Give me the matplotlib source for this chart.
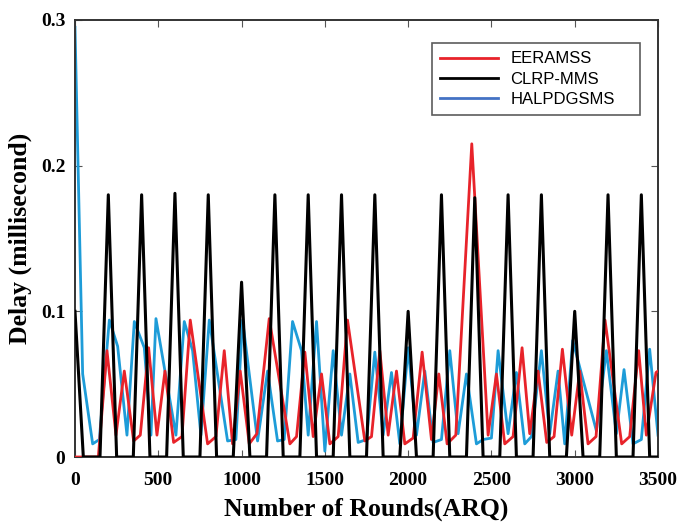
import numpy as np
import matplotlib.pyplot as plt
from matplotlib.lines import Line2D

# EERAMSS (red)
red_x = [0, 140, 192, 246, 296, 352, 392, 442, 492, 540, 592, 642, 692, 796, 846,
         896, 946, 992, 1046, 1092, 1166, 1290, 1330, 1380, 1430, 1480, 1530, 1580,
         1636, 1740, 1780, 1830, 1880, 1930, 1980, 2030, 2084, 2140, 2184, 2234, 2286,
         2382, 2480, 2530, 2580, 2630, 2684, 2730, 2780, 2832, 2876, 2926, 2982, 3030,
         3080, 3128, 3182, 3282, 3330, 3384, 3430, 3488, 3500]
red_y = [0, 0, 0.073, 0.015, 0.059, 0.011, 0.015, 0.075, 0.015, 0.059, 0.010, 0.014,
         0.094, 0.009, 0.014, 0.073, 0.009, 0.059, 0.009, 0.016, 0.095, 0.009, 0.014,
         0.072, 0.014, 0.057, 0.009, 0.014, 0.094, 0.011, 0.014, 0.073, 0.015, 0.059,
         0.009, 0.013, 0.072, 0.012, 0.057, 0.009, 0.015, 0.215, 0.015, 0.057, 0.009,
         0.014, 0.075, 0.016, 0.059, 0.010, 0.014, 0.074, 0.015, 0.059, 0.009, 0.014,
         0.094, 0.009, 0.014, 0.073, 0.015, 0.058, 0.059]

# CLRP-MMS (black)
blk_x = [0, 50, 150, 200, 250, 350, 400, 450, 550, 600, 650, 750, 800, 850, 950,
         1000, 1050, 1150, 1200, 1250, 1350, 1400, 1450, 1550, 1600, 1650, 1750,
         1800, 1850, 1950, 2000, 2050, 2150, 2200, 2250, 2350, 2400, 2450, 2550,
         2600, 2650, 2750, 2800, 2850, 2950, 3000, 3050, 3150, 3200, 3250, 3350,
         3400, 3450, 3500]
blk_y = [0.1, 0, 0, 0.18, 0, 0, 0.18, 0, 0, 0.181, 0, 0, 0.18, 0, 0,
         0.12, 0, 0, 0.18, 0, 0, 0.18, 0, 0, 0.18, 0, 0,
         0.18, 0, 0, 0.1, 0, 0, 0.18, 0, 0, 0.178, 0, 0,
         0.18, 0, 0, 0.18, 0, 0, 0.1, 0, 0, 0.18, 0, 0,
         0.18, 0, 0]

# HALPDGSMS (blue)
blu_x = [0, 46, 106, 146, 206, 256, 312, 356, 416, 456, 486, 606, 656, 706, 756,
         806, 916, 966, 1006, 1096, 1156, 1216, 1256, 1306, 1360, 1400, 1450, 1500,
         1550, 1600, 1650, 1700, 1750, 1800, 1850, 1900, 1950, 2000, 2050, 2100,
         2150, 2200, 2250, 2300, 2350, 2410, 2450, 2500, 2540, 2600, 2650, 2700,
         2740, 2800, 2850, 2900, 2940, 2988, 3130, 3190, 3250, 3296, 3350, 3400,
         3450, 3500]
blu_y = [0.295, 0.057, 0.009, 0.012, 0.094, 0.076, 0.015, 0.093, 0.075, 0.015,
         0.095, 0.015, 0.093, 0.073, 0.015, 0.094, 0.011, 0.012, 0.094, 0.011,
         0.059, 0.011, 0.012, 0.093, 0.073, 0.015, 0.093, 0.004, 0.073, 0.015,
         0.057, 0.010, 0.012, 0.072, 0.015, 0.058, 0.009, 0.075, 0.015, 0.059,
         0.010, 0.012, 0.073, 0.016, 0.057, 0.009, 0.012, 0.013, 0.073, 0.016,
         0.058, 0.009, 0.014, 0.073, 0.016, 0.059, 0.009, 0.080, 0.018, 0.073,
         0.016, 0.060, 0.009, 0.012, 0.074, 0.015]

labels = ["EERAMSS", "CLRP-MMS", "HALPDGSMS"]
xticks = [0, 500, 1000, 1500, 2000, 2500, 3000, 3500]
yticks = [0, 0.1, 0.2, 0.3]

red = "#e8232a"
blue = "#1e9cd8"

fig = plt.figure(figsize=(6.81, 5.23), dpi=100)
ax = fig.add_axes([75/681, 1 - 457/523, 583/681, 437/523])

ax.plot(red_x, red_y, color=red, lw=2.0, zorder=3)
ax.plot(blk_x, blk_y, color="black", lw=2.2, zorder=4)
ax.plot(blu_x, blu_y, color=blue, lw=2.0, zorder=2)

ax.set_xlim(0, 3500)
ax.set_ylim(0, 0.3)
ax.set_xticks(xticks)
ax.set_yticks(yticks)
ax.set_xticklabels([str(v) for v in xticks])
ax.set_yticklabels(["0", "0.1", "0.2", "0.3"])

for t in ax.get_xticklabels() + ax.get_yticklabels():
    t.set_fontfamily("Liberation Serif")
    t.set_fontweight("bold")
    t.set_fontsize(14)

ax.tick_params(direction="in", top=True, right=True, length=5, width=0.8,
               color="#555555")
ax.tick_params(axis="x", pad=11)
ax.tick_params(axis="y", pad=7)
for s in ax.spines.values():
    s.set_color("#333333")
    s.set_linewidth(1.4)

ax.set_xlabel("Number of Rounds(ARQ)", fontfamily="Liberation Serif",
              fontweight="bold", fontsize=18.5)
ax.set_ylabel("Delay (millisecond)", fontfamily="Liberation Serif",
              fontweight="bold", fontsize=18.5)
ax.xaxis.set_label_coords(0.5, -0.093)
ax.yaxis.set_label_coords(-0.074, 0.5)

handles = [Line2D([], [], color=red, lw=2),
           Line2D([], [], color="black", lw=2),
           Line2D([], [], color="#4472c4", lw=2)]
leg = ax.legend(handles, labels, loc="upper left",
                bbox_to_anchor=(0.612, 0.787, 0.357, 0.16), mode="expand",
                prop=dict(family="Liberation Sans", size=12), frameon=True,
                fancybox=False, handlelength=3.5, handletextpad=0.7,
                labelspacing=0.32, borderpad=0.5, borderaxespad=0)
leg.get_frame().set_edgecolor("#333333")
leg.get_frame().set_linewidth(1.2)

fig.savefig("out.png", dpi=100)
